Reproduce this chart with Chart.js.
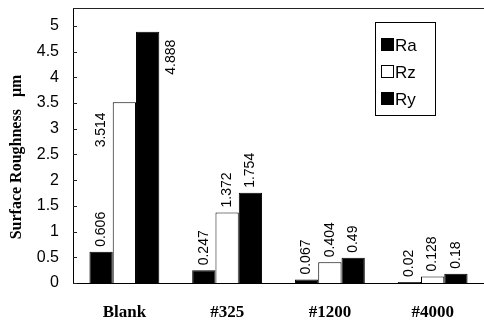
<!DOCTYPE html>
<html>
<head>
<meta charset="utf-8">
<script src="https://cdn.jsdelivr.net/npm/chart.js@4/dist/chart.umd.min.js"></script>
<style>
  html, body { margin: 0; padding: 0; background: #fff; }
  #roughnessChart { display: block; }
</style>
</head>
<body>
<canvas id="roughnessChart" width="484" height="320"></canvas>
<script>
// Chart data
const categories = ['Blank', '#325', '#1200', '#4000'];
const raValues = [0.606, 0.247, 0.067, 0.02];
const rzValues = [3.514, 1.372, 0.404, 0.128];
const ryValues = [4.888, 1.754, 0.49, 0.18];
const yTicks = [0, 0.5, 1, 1.5, 2, 2.5, 3, 3.5, 4, 4.5, 5];
const yTitle = 'Surface Roughness   μm';

const SANS = '"Liberation Sans", Arial, sans-serif';
const SERIF = '"Liberation Serif", "Times New Roman", serif';

// Frame line on top, small inward ticks and the value axis title
const framePlugin = {
    id: 'frame',
    afterDraw(chart) {
        const { ctx, chartArea } = chart;
        const yScale = chart.scales.y;
        ctx.save();
        ctx.strokeStyle = '#222';
        ctx.lineWidth = 1;
        ctx.beginPath();
        ctx.moveTo(chartArea.left, chartArea.top + 0.5);
        ctx.lineTo(chartArea.right, chartArea.top + 0.5);
        yTicks.forEach(v => {
            const py = Math.round(yScale.getPixelForValue(v)) + 0.5;
            ctx.moveTo(chartArea.left, py);
            ctx.lineTo(chartArea.left + 4, py);
        });
        ctx.stroke();

        // axis title, a little below the middle like the original
        ctx.fillStyle = '#000';
        ctx.font = 'bold 16px ' + SERIF;
        ctx.textAlign = 'center';
        ctx.textBaseline = 'middle';
        ctx.translate(17, 157);
        ctx.rotate(-Math.PI / 2);
        ctx.fillText(yTitle, 0, 0);
        ctx.restore();
    }
};

// Rotated value labels over the bars
const valueLabelPlugin = {
    id: 'valueLabels',
    afterDatasetsDraw(chart) {
        const { ctx } = chart;
        ctx.save();
        ctx.fillStyle = '#000';
        ctx.font = '14px ' + SANS;
        ctx.textAlign = 'left';
        ctx.textBaseline = 'middle';
        chart.data.datasets.forEach((ds, di) => {
            const meta = chart.getDatasetMeta(di);
            meta.data.forEach((bar, i) => {
                const text = String(ds.data[i]);
                let x = bar.x;
                let y = bar.y - 5;
                // the tall Blank labels sit beside their bars
                if (i === 0 && di === 1) {
                    x = bar.x - bar.width;
                    y = bar.y + 45;
                } else if (i === 0 && di === 2) {
                    x = bar.x + bar.width;
                    y = bar.y + 8 + ctx.measureText(text).width;
                }
                ctx.save();
                ctx.translate(x, y);
                ctx.rotate(-Math.PI / 2);
                ctx.fillText(text, 0, 0);
                ctx.restore();
            });
        });
        ctx.restore();
    }
};

// Boxed legend in the upper right
const boxLegendPlugin = {
    id: 'boxLegend',
    afterDraw(chart) {
        const { ctx } = chart;
        ctx.save();
        ctx.strokeStyle = '#000';
        ctx.lineWidth = 1;
        ctx.strokeRect(375.5, 22.5, 60, 93);
        ctx.font = '17px ' + SANS;
        ctx.textAlign = 'left';
        ctx.textBaseline = 'middle';
        chart.data.datasets.forEach((ds, i) => {
            const cy = 45 + i * 27;
            ctx.fillStyle = ds.backgroundColor;
            ctx.fillRect(381, cy - 7, 13, 13);
            ctx.strokeRect(381.5, cy - 6.5, 12, 12);
            ctx.fillStyle = '#000';
            ctx.fillText(ds.label, 395, cy + 1);
        });
        ctx.restore();
    }
};

function createChart() {
    const ctx = document.getElementById('roughnessChart');
    new Chart(ctx, {
        type: 'bar',
        data: {
            labels: categories,
            datasets: [
                { label: 'Ra', data: raValues, backgroundColor: '#000', borderColor: '#000', borderWidth: 1 },
                { label: 'Rz', data: rzValues, backgroundColor: '#fff', borderColor: '#000', borderWidth: 1 },
                { label: 'Ry', data: ryValues, backgroundColor: '#000', borderColor: '#000', borderWidth: 1 }
            ]
        },
        options: {
            responsive: false,
            animation: false,
            layout: { padding: { top: 8, right: 0, left: 0, bottom: 0 } },
            datasets: {
                bar: { categoryPercentage: 0.68, barPercentage: 1 }
            },
            plugins: {
                legend: { display: false },
                tooltip: { enabled: false }
            },
            scales: {
                x: {
                    grid: { display: false },
                    border: { display: true, color: '#000', width: 1 },
                    ticks: {
                        color: '#000',
                        font: { family: SERIF, size: 17, weight: 'bold' },
                        padding: 11
                    },
                    afterFit(scale) {
                        scale.height = 37;
                        scale.paddingLeft = 0;
                        scale.paddingRight = 0;
                    }
                },
                y: {
                    min: 0,
                    max: 5.35,
                    afterBuildTicks(scale) {
                        scale.ticks = yTicks.map(v => ({ value: v }));
                    },
                    grid: { display: false },
                    border: { display: true, color: '#000', width: 1 },
                    ticks: {
                        color: '#000',
                        font: { family: SANS, size: 16 },
                        padding: 6,
                        callback: v => String(v)
                    },
                    afterFit(scale) {
                        scale.width = 73;
                        scale.paddingTop = 0;
                        scale.paddingBottom = 0;
                    }
                }
            }
        },
        plugins: [framePlugin, valueLabelPlugin, boxLegendPlugin]
    });
}

document.addEventListener('DOMContentLoaded', createChart);
</script>
</body>
</html>
